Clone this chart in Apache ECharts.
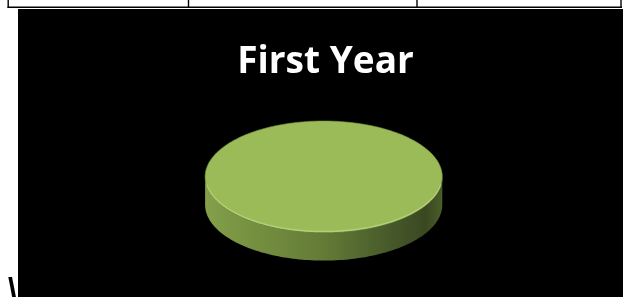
<!DOCTYPE html>
<html><head><meta charset="utf-8">
<script src="https://cdn.jsdelivr.net/npm/echarts@6/dist/echarts.min.js"></script>
<style>html,body{margin:0;padding:0;background:#fff;overflow:hidden}#c{width:623px;height:297px}</style>
</head><body><div id="c"></div>
<script>
const chartTitle = 'First Year';
const sliceNames = ['First Year'];
const sliceValues = [100];
const sliceColors = ['#9bbb59'];

const chart = echarts.init(document.getElementById('c'), null, {renderer: 'canvas'});
const CX = 323.7, CY = 176.8, RX = 118.6, RY = 55.8, DEPTH = 28;
const total = sliceValues.reduce((a, b) => a + b, 0);

function pt(a, dy) { return [CX + RX * Math.cos(a), CY + RY * Math.sin(a) + (dy || 0)]; }

function renderItem(params, api) {
  const idx = params.dataIndex;
  let start = 0;
  for (let i = 0; i < idx; i++) start += sliceValues[i];
  const a0 = -Math.PI / 2 + start / total * 2 * Math.PI;
  const a1 = a0 + api.value(0) / total * 2 * Math.PI;
  const full = Math.abs(a1 - a0) >= 2 * Math.PI - 1e-6;
  const N = 240;
  const top = [];
  if (!full) top.push([CX, CY]);
  for (let k = 0; k <= N; k++) top.push(pt(a0 + (a1 - a0) * k / N, 0));
  const sideTop = [];
  for (let k = 0; k <= N; k++) {
    const a = a0 + (a1 - a0) * k / N;
    if (Math.sin(a) >= -1e-9) sideTop.push(a);
  }
  sideTop.sort((x, y) => Math.cos(y) - Math.cos(x));
  const side = [];
  sideTop.forEach(a => side.push(pt(a, 0)));
  for (let k = sideTop.length - 1; k >= 0; k--) side.push(pt(sideTop[k], DEPTH));
  const rim = [];
  for (let k = 0; k <= 120; k++) { const a = Math.PI * 0.05 + Math.PI * 0.9 * k / 120; rim.push(pt(a, -1)); }
  return {
    type: 'group',
    children: [
      {
        type: 'polygon', shape: {points: side},
        style: {
          fill: new echarts.graphic.LinearGradient(0, 0, 1, 0, [
            {offset: 0, color: '#84a04a'},
            {offset: 0.12, color: '#7b9644'},
            {offset: 0.5, color: '#637b36'},
            {offset: 0.78, color: '#47592a'},
            {offset: 0.93, color: '#3a4821'},
            {offset: 1, color: '#4b5d29'}
          ]),
          stroke: null
        }
      },
      {
        type: 'polygon', shape: {points: top},
        style: {fill: sliceColors[idx], stroke: 'rgba(120,150,60,0.6)', lineWidth: 1}
      },
      {
        type: 'polyline', shape: {points: rim},
        style: {fill: null, stroke: 'rgba(200,225,150,0.55)', lineWidth: 1.5}
      }
    ]
  };
}

const option = {
  backgroundColor: '#ffffff',
  animation: false,
  title: {
    text: chartTitle,
    left: 320.5,
    top: 39,
    textAlign: 'center',
    textStyle: {color: '#ffffff', fontSize: 37, fontWeight: 'bold', fontFamily: 'Open Sans'}
  },
  graphic: [
    {type: 'text', z: -20, left: 8, top: 275, style: {text: '\\', fill: '#000', font: 'bold 32px "Liberation Sans"'}},
    {type: 'rect', z: -10, shape: {x: 18, y: 9, width: 605, height: 288}, style: {fill: '#000'}},
    {type: 'line', z: -5, shape: {x1: 7.5, y1: 7.2, x2: 622, y2: 7.2}, style: {stroke: '#000', lineWidth: 1.5}},
    {type: 'line', z: -5, shape: {x1: 8.2, y1: 0, x2: 8.2, y2: 8}, style: {stroke: '#000', lineWidth: 1.4}},
    {type: 'line', z: -5, shape: {x1: 188.5, y1: 0, x2: 188.5, y2: 8}, style: {stroke: '#000', lineWidth: 1.4}},
    {type: 'line', z: -5, shape: {x1: 417, y1: 0, x2: 417, y2: 8}, style: {stroke: '#000', lineWidth: 1.4}},
    {type: 'line', z: -5, shape: {x1: 621, y1: 0, x2: 621, y2: 8}, style: {stroke: '#000', lineWidth: 1.4}}
  ],
  series: [{
    type: 'custom',
    coordinateSystem: 'none',
    data: sliceValues.map((v, i) => ({name: sliceNames[i], value: [v]})),
    renderItem: renderItem
  }]
};
chart.setOption(option);
</script></body></html>
